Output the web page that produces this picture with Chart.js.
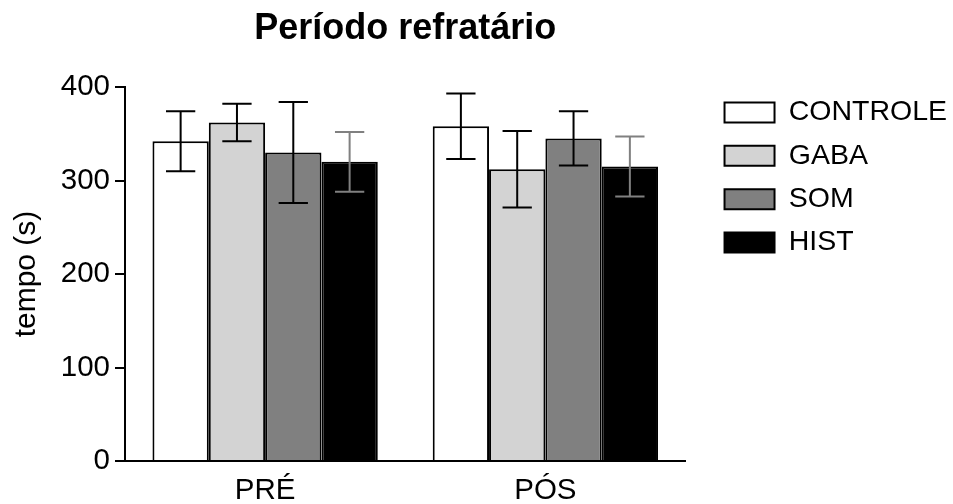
<!DOCTYPE html>
<html>
<head>
<meta charset="utf-8">
<title>Período refratário</title>
<script src="https://cdn.jsdelivr.net/npm/chart.js@4/dist/chart.umd.min.js"></script>
<style>
  html, body { margin: 0; padding: 0; background: #ffffff; }
  #wrap { width: 953px; height: 504px; }
</style>
</head>
<body>
<div id="wrap"><canvas id="chart" width="953" height="504"></canvas></div>
<script>
// Refractory period (seconds) before and after treatment, mean ± SEM
const categories = ['PRÉ', 'PÓS'];
const groupNames = ['CONTROLE', 'GABA', 'SOM', 'HIST'];
const controleMean = [342, 358];
const gabaMean = [362, 312];
const somMean = [330, 345];
const histMean = [320, 315];
const controleErr = [32, 35];
const gabaErr = [20, 41];
const somErr = [54, 29];
const histErr = [32, 32];
const yTicks = [0, 100, 200, 300, 400];

const FONT = "'Liberation Sans', Arial, Helvetica, sans-serif";

const fills = ['#ffffff', '#d3d3d3', '#808080', '#000000'];
const errColors = ['#000000', '#000000', '#000000', '#808080'];
const means = [controleMean, gabaMean, somMean, histMean];
const errs = [controleErr, gabaErr, somErr, histErr];

const datasets = groupNames.map((name, i) => ({
  label: name,
  data: means[i],
  errors: errs[i],
  errorColor: errColors[i],
  backgroundColor: fills[i],
  borderColor: '#000000',
  borderWidth: 2,
  categoryPercentage: 0.804,
  barPercentage: 1.0
}));

// Whiskers: mean ± error, with short caps, drawn on top of each bar
const errorBars = {
  id: 'errorBars',
  afterDatasetsDraw(chart) {
    const ctx = chart.ctx;
    const y = chart.scales.y;
    chart.data.datasets.forEach((ds, di) => {
      const meta = chart.getDatasetMeta(di);
      meta.data.forEach((bar, i) => {
        const v = ds.data[i];
        const e = ds.errors[i];
        const yTop = y.getPixelForValue(v + e);
        const yBot = y.getPixelForValue(v - e);
        const half = bar.width * 0.26;
        ctx.save();
        ctx.strokeStyle = ds.errorColor;
        ctx.lineWidth = 2;
        ctx.beginPath();
        ctx.moveTo(bar.x, yTop);
        ctx.lineTo(bar.x, yBot);
        ctx.moveTo(bar.x - half, yTop);
        ctx.lineTo(bar.x + half, yTop);
        ctx.moveTo(bar.x - half, yBot);
        ctx.lineTo(bar.x + half, yBot);
        ctx.stroke();
        ctx.restore();
      });
    });
  }
};

// Place the legend a little away from the plot, level with the top of the axis,
// and let its area reach the right edge of the canvas
const legendOffset = {
  id: 'legendOffset',
  afterLayout(chart) {
    const lg = chart.legend;
    if (!lg) return;
    lg.left += 24.2;
    lg.right = chart.width;
    lg.top -= 3.6;
    lg.bottom -= 3.6;
  }
};

new Chart(document.getElementById('chart'), {
  type: 'bar',
  data: { labels: categories, datasets },
  plugins: [errorBars, legendOffset],
  options: {
    responsive: false,
    animation: false,
    devicePixelRatio: 1,
    layout: { padding: { left: 0, right: 39, top: 0, bottom: 0 } },
    plugins: {
      title: {
        display: true,
        text: 'Período refratário',
        fullSize: false,
        color: '#000000',
        font: { family: FONT, size: 36, weight: 'bold' },
        padding: { top: 7, bottom: 36.8 }
      },
      legend: {
        display: true,
        position: 'right',
        align: 'start',
        fullSize: false,
        labels: {
          color: '#000000',
          font: { family: FONT, size: 28.5 },
          boxWidth: 50,
          boxHeight: 20,
          padding: 14.83
        }
      },
      tooltip: { enabled: false }
    },
    scales: {
      x: {
        grid: { display: false },
        border: { display: true, color: '#000000', width: 2 },
        ticks: {
          color: '#000000',
          font: { family: FONT, size: 29.5 },
          padding: 4
        },
        afterFit(scale) { scale.height = 43; }
      },
      y: {
        min: 0,
        max: 400,
        afterBuildTicks(scale) { scale.ticks = yTicks.map(v => ({ value: v })); },
        grid: {
          drawOnChartArea: false,
          drawTicks: true,
          tickLength: 10,
          color: '#000000',
          lineWidth: 2
        },
        border: { display: true, color: '#000000', width: 2 },
        ticks: {
          color: '#000000',
          font: { family: FONT, size: 29.5 },
          padding: 5
        },
        title: {
          display: true,
          text: 'tempo (s)',
          color: '#000000',
          font: { family: FONT, size: 30 },
          padding: { top: 9, bottom: 0 }
        },
        afterFit(scale) { scale.width = 125; }
      }
    }
  }
});
</script>
</body>
</html>
